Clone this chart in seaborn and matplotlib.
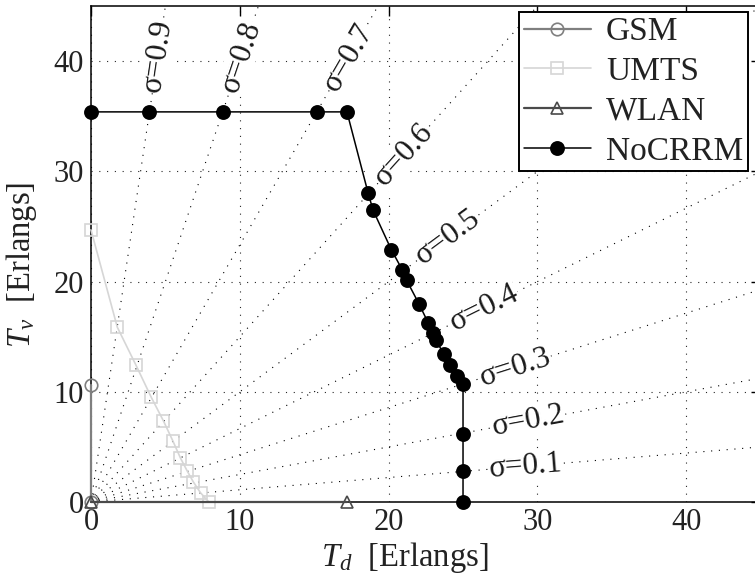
import numpy as np
import pandas as pd
import matplotlib
matplotlib.use("Agg")
import matplotlib.pyplot as plt
import seaborn as sns

# Carried traffic per RAT (data Td vs voice Tv, in Erlangs)
gsm_td = [0.0, 0.0]
gsm_tv = [10.6, 0.0]

umts_td = [0.0, 1.77, 3.03, 4.04, 4.87, 5.50, 6.01, 6.46, 6.87, 7.36, 7.92]
umts_tv = [24.7, 15.86, 12.4, 9.53, 7.36, 5.55, 4.00, 2.83, 1.84, 0.84, 0.0]

wlan_td = [0.0, 17.2]
wlan_tv = [0.0, 0.0]

nocrrm_td = [0.0, 3.93, 8.85, 15.2, 17.2, 18.63, 18.95, 20.18, 20.92, 21.21,
             22.04, 22.67, 22.96, 23.19, 23.70, 24.15, 24.60, 25.0, 25.0, 25.0, 25.0]
nocrrm_tv = [35.4, 35.4, 35.4, 35.4, 35.4, 28.0, 26.5, 22.9, 21.06, 20.12,
             17.98, 16.23, 15.32, 14.66, 13.45, 12.43, 11.47, 10.71, 6.2, 2.8, 0.0]

# voice-share rays sigma = Tv / (Tv + Td) and where their labels sit (Td)
sigmas = [0.1, 0.2, 0.3, 0.4, 0.5, 0.6, 0.7, 0.8, 0.9]
sigma_label_td = [29.2, 29.4, 28.5, 26.4, 24.0, 21.0, 17.3, 10.1, 4.5]

ticks = [0, 10, 20, 30, 40]

sns.set_theme(style="white")
plt.rcParams["font.family"] = ["Liberation Serif", "DejaVu Serif"]
plt.rcParams["mathtext.fontset"] = "custom"
plt.rcParams["mathtext.rm"] = "Liberation Serif"
plt.rcParams["mathtext.it"] = "Liberation Serif:italic"

fig = plt.figure(figsize=(7.55, 5.74), dpi=100)
ax = fig.add_axes([0.1205, 0.1254, 0.887, 0.864])
ax.set_xlim(0, 45)
ax.set_ylim(0, 45)
ax.set_xticks(ticks)
ax.set_yticks(ticks)

dots = (0, (1, 6))
ax.grid(True, linestyle=dots, color="black", linewidth=0.8, alpha=0.85)
ax.set_axisbelow(True)

# rays of constant sigma through the origin
for s in sigmas:
    slope = s / (1 - s)
    ray = pd.DataFrame({"Td": [0.0, 60.0], "Tv": [0.0, 60.0 * slope]})
    ax.plot(ray["Td"], ray["Tv"], linestyle=dots, color="black",
            linewidth=0.8, zorder=1)

series = [
    ("GSM", gsm_td, gsm_tv, "#7f7f7f", "o", "none", 9, 1.6),
    ("UMTS", umts_td, umts_tv, "#d6d6d6", "s", "none", 9, 1.2),
    ("WLAN", wlan_td, wlan_tv, "#4a4a4a", "^", "none", 9, 1.6),
    ("NoCRRM", nocrrm_td, nocrrm_tv, "black", "o", "black", 9.5, 1.1),
]
for i, (name, xs, ys, col, mk, mfc, ms, lw) in enumerate(series):
    df = pd.DataFrame({"Td": xs, "Tv": ys})
    sns.lineplot(data=df, x="Td", y="Tv", ax=ax, sort=False, estimator=None,
                 color=col, marker=mk, markersize=ms, markerfacecolor=mfc,
                 markeredgecolor=col, markeredgewidth=1.2, linewidth=lw,
                 label=name, clip_on=False, zorder=4 + i)

fig.canvas.draw()
p0 = ax.transData.transform((0, 0))
p1 = ax.transData.transform((1, 1))
sx, sy = p1 - p0
for s, td in zip(sigmas, sigma_label_td):
    slope = s / (1 - s)
    ang = np.degrees(np.arctan2(slope * sy, sx))
    ax.text(td, td * slope, f"σ={s:.1f}", fontsize=22.5, rotation=ang,
            rotation_mode="anchor", ha="center", va="center", zorder=3,
            color="#1a1a1a",
            bbox=dict(facecolor="white", edgecolor="none", pad=0.5))

for sp in ax.spines.values():
    sp.set_color("black")
    sp.set_linewidth(1.1)

ax.tick_params(direction="in", length=7, width=1.0, top=True, right=True,
               labelsize=22, colors="black", labelcolor="#222222")
ax.tick_params(axis="x", pad=4)
ax.tick_params(axis="y", pad=5)

ax.set_xlabel(r"$T_d$  [Erlangs]", fontsize=23.5, color="#222222")
ax.set_ylabel(r"$T_v$  [Erlangs]", fontsize=23.5, color="#222222")
ax.xaxis.set_label_coords(0.469, -0.076)
ax.yaxis.set_label_coords(-0.078, 0.478)

leg = ax.legend(loc="upper right", bbox_to_anchor=(0.9806, 0.988),
                borderaxespad=0, fontsize=24, frameon=True, fancybox=False,
                handlelength=2.0, handletextpad=0.45, labelspacing=0.28,
                borderpad=0.14, framealpha=1)
leg.get_frame().set_edgecolor("black")
leg.get_frame().set_linewidth(1.4)
for t in leg.get_texts():
    t.set_color("#222222")

fig.savefig("out.png", dpi=100)
